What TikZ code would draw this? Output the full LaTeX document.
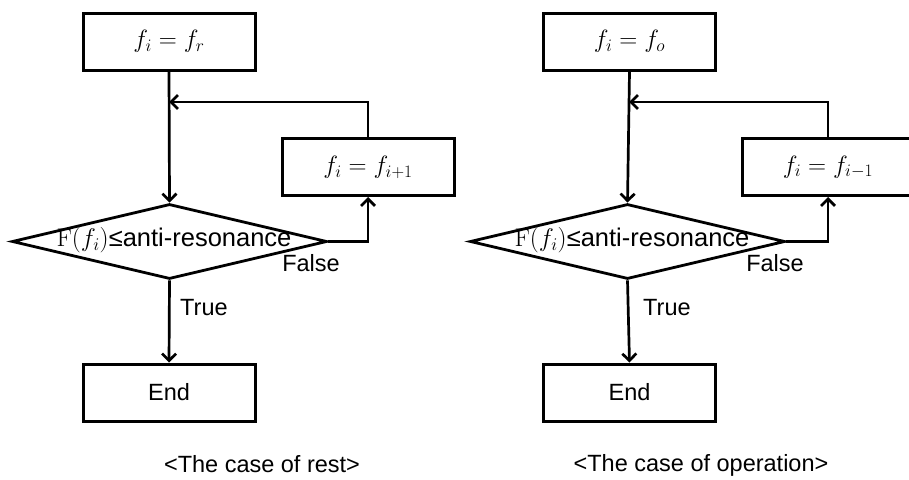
\documentclass[tikz,border=0pt]{standalone}
\usepackage{fix-cm}
\usepackage[no-math]{fontspec}
\setmainfont{Liberation Sans}
\usetikzlibrary{arrows.meta,shapes.geometric}
\tikzset{
  box/.style={draw, line width=3pt, minimum width=172pt, minimum height=57pt, inner sep=0pt, font=\fontsize{23.5}{28}\selectfont},
  mbox/.style={box, font=\fontsize{25}{30}\selectfont},
  cond/.style={draw, diamond, line width=2.8pt, minimum width=315pt, minimum height=75pt, inner sep=0pt, aspect=4.2},
  lbl/.style={font=\fontsize{23.5}{28}\selectfont, inner sep=0pt},
  condtxt/.style={font=\fontsize{25.5}{30}\selectfont, inner sep=0pt},
  conn/.style={line width=2.7pt, -{Straight Barb[length=7pt,width=14pt]}},
}
\begin{document}
\begin{tikzpicture}[x=1pt,y=-1pt]
\useasboundingbox (0,0) rectangle (909,479);
% ---- left: case of rest ----
\node[mbox] (t1) at (169,41.5) {$f_i = f_r$};
\node[mbox] (u1) at (368,167) {$f_i = f_{i+1}$};
\node[cond] (d1) at (169.5,241.5) {};
\node[condtxt] (c1) at (174,240) {$\mathrm{F}(f_i)$≤anti-resonance};
\node[box] (e1) at (169,392.5) {End};
\coordinate (j1) at (169,102);
\draw[conn] (t1.south) -- (d1.north);
\draw[conn] (u1.north) |- (j1);
\draw[conn] (d1.east) -| (u1.south);
\draw[conn] (d1.south) -- (e1.north);
\node[lbl, anchor=west] (tr1) at (180,308) {True};
\node[lbl] (f1) at (311,263) {False};
\node[lbl] (cap1) at (262,464) {<The case of rest>};
% ---- right: case of operation ----
\node[mbox] (t2) at (629.5,41.5) {$f_i = f_o$};
\node[mbox] (u2) at (828,167) {$f_i = f_{i-1}$};
\node[cond] (d2) at (627.5,241.5) {};
\node[condtxt] (c2) at (632,240) {$\mathrm{F}(f_i)$≤anti-resonance};
\node[box] (e2) at (629.5,392.5) {End};
\coordinate (j2) at (629,102);
\draw[conn] (t2.south) -- (d2.north);
\draw[conn] (u2.north) |- (j2);
\draw[conn] (d2.east) -| (u2.south);
\draw[conn] (d2.south) -- (e2.north);
\node[lbl, anchor=west] (tr2) at (643,308) {True};
\node[lbl] (f2) at (775,263) {False};
\node[lbl] (cap2) at (701,465) {<The case of operation>};
\end{tikzpicture}
\end{document}
